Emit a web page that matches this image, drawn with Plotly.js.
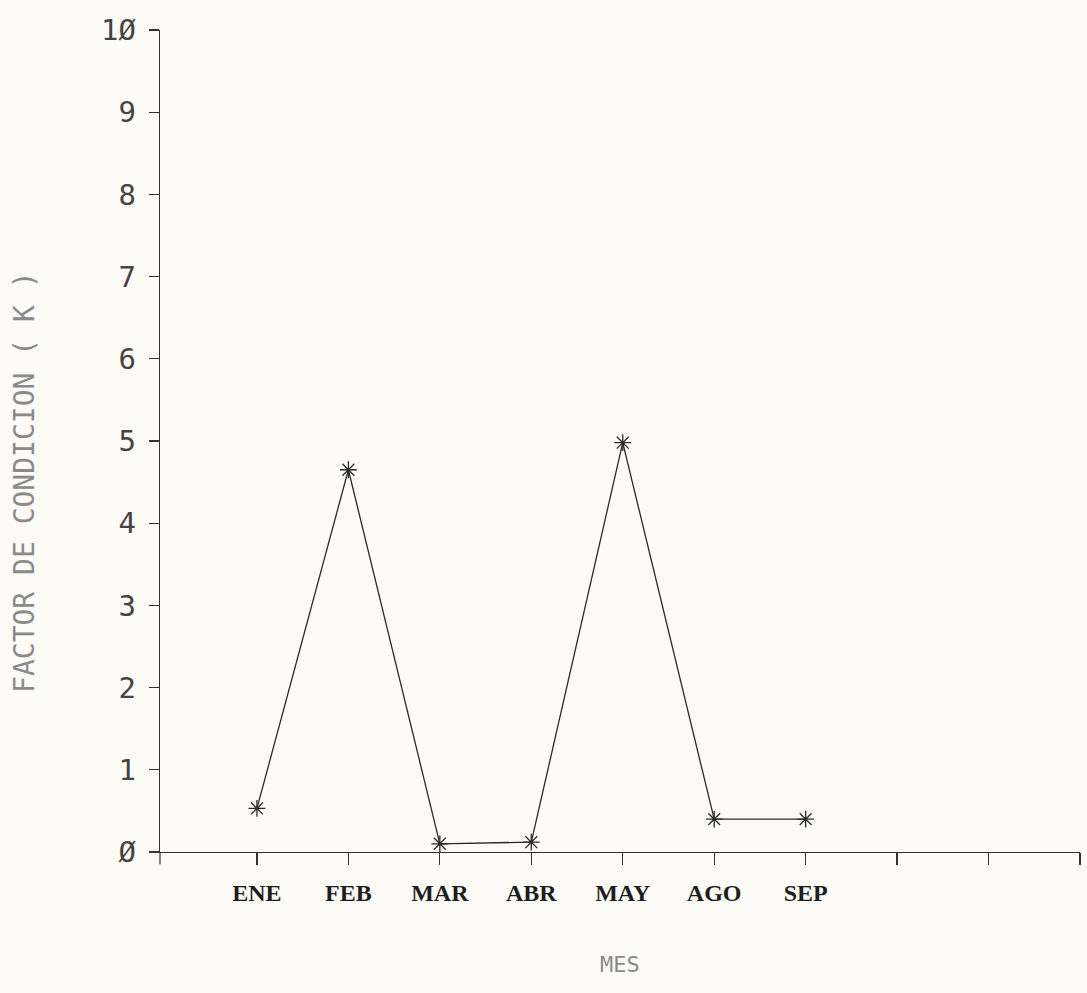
<!DOCTYPE html>
<html>
<head>
<meta charset="utf-8">
<script src="https://cdn.plot.ly/plotly-3.0.1.min.js"></script>
<style>
  html, body { margin: 0; padding: 0; background: #fcfbf6; }
  #chart { width: 1087px; height: 993px; }
</style>
</head>
<body>
<div id="chart"></div>
<script>
// Data
const months = ['ENE', 'FEB', 'MAR', 'ABR', 'MAY', 'AGO', 'SEP'];
const kValues = [0.53, 4.65, 0.10, 0.12, 4.98, 0.40, 0.40];
const extraTickLabels = ['', '', ''];           // unlabeled ticks after SEP
const yTickValues = [0, 1, 2, 3, 4, 5, 6, 7, 8, 9, 10];
const yTickLabels = ['Ø', '1', '2', '3', '4', '5', '6', '7', '8', '9', '1Ø'];

const xPos = months.map((m, i) => i);
const allTickText = months.concat(extraTickLabels);
const allTickVals = allTickText.map((t, i) => i);

const trace = {
  x: xPos,
  y: kValues,
  text: months,
  type: 'scatter',
  mode: 'lines+markers',
  line: { color: '#2a2a2a', width: 1.3 },
  marker: { symbol: 'asterisk-open', size: 14, color: '#2a2a2a', line: { color: '#2a2a2a', width: 1.3 } },
  hoverinfo: 'text+y'
};

const layout = {
  width: 1087,
  height: 993,
  paper_bgcolor: '#fcfbf6',
  plot_bgcolor: '#fcfbf6',
  showlegend: false,
  margin: { l: 160, r: 7, t: 30, b: 141 },
  xaxis: {
    range: [-1.06, 9.0],
    tickmode: 'array',
    tickvals: allTickVals,
    ticktext: allTickText,
    showgrid: false,
    zeroline: false,
    showline: true,
    linecolor: '#333',
    linewidth: 1.2,
    ticks: 'outside',
    ticklen: 12,
    tickwidth: 1.2,
    tickcolor: '#333',
    ticklabelstandoff: 7,
    tickfont: { family: 'Liberation Serif, Times New Roman, serif', size: 24, color: '#1e1e1e', weight: 'bold' },
    title: { text: '' }
  },
  yaxis: {
    range: [0, 10],
    tickmode: 'array',
    tickvals: yTickValues,
    ticktext: yTickLabels,
    showgrid: false,
    zeroline: false,
    showline: true,
    linecolor: '#333',
    linewidth: 1.2,
    ticks: 'outside',
    ticklen: 10,
    tickwidth: 1.2,
    tickcolor: '#333',
    ticklabelstandoff: 7,
    tickfont: { family: 'DejaVu Sans Mono, monospace', size: 29, color: '#444' },
    title: { text: '' }
  },
  shapes: [
    { type: 'line', xref: 'paper', yref: 'paper', x0: 0, x1: 0, y0: 0, y1: -0.015,
      line: { color: '#333', width: 1.2 } }
  ],
  annotations: [
    { text: 'FACTOR DE CONDICION ( K )', xref: 'paper', yref: 'paper',
      x: -0.148, y: 0.45, xanchor: 'center', yanchor: 'middle', textangle: -90,
      showarrow: false,
      font: { family: 'DejaVu Sans Mono, monospace', size: 28, color: '#8a8a8a' } },
    { text: 'MES', xref: 'paper', yref: 'paper',
      x: 0.5, y: -0.137, xanchor: 'center', yanchor: 'middle',
      showarrow: false,
      font: { family: 'DejaVu Sans Mono, monospace', size: 22, color: '#8a8a8a' } }
  ]
};

Plotly.newPlot('chart', [trace], layout, { displayModeBar: false, staticPlot: true });
</script>
</body>
</html>
